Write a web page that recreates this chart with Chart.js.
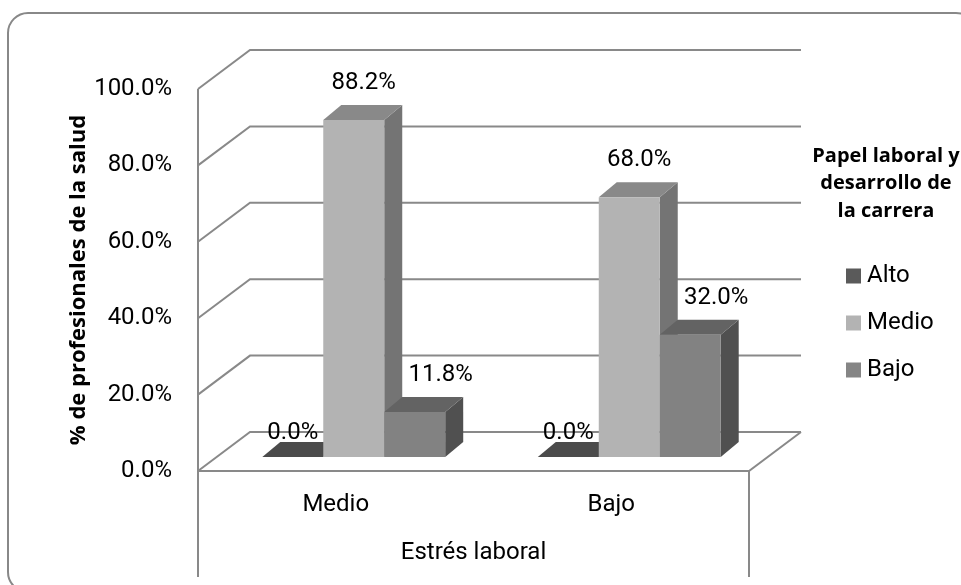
<!DOCTYPE html>
<html><head><meta charset="utf-8">
<script src="https://cdn.jsdelivr.net/npm/chart.js@4/dist/chart.umd.min.js"></script>
<style>html,body{margin:0;padding:0;background:#fff;}canvas{display:block;}</style>
</head><body>
<canvas id="c" width="961" height="585"></canvas>
<script>
// ---- data ----
const categories = ['Medio', 'Bajo'];
const seriesNames = ['Alto', 'Medio', 'Bajo'];
const altoValues = [0.0, 0.0];
const medioValues = [88.2, 68.0];
const bajoValues = [11.8, 32.0];
const yTickValues = [0, 20, 40, 60, 80, 100];
const xAxisTitle = 'Estrés laboral';
const yAxisTitle = '% de profesionales de la salud';
const legendTitle = ['Papel laboral y', 'desarrollo de', 'la carrera'];

// ---- styles ----
const FONT = "Roboto, 'Open Sans', sans-serif";
const BOLD_FONT = "'Open Sans', sans-serif";
const LINE = '#898989';
const DEPTH = {dx: 52, dy: -39};
const BAR_SHIFT = {dx: 18, dy: -14};
const BAR_DEPTH = {dx: 18, dy: -15};
const FACES = [
  {front: '#4b4b4b', top: '#4b4b4b', side: '#3c3c3c', legend: '#5a5a5a', labelDx: 0},
  {front: '#b3b3b3', top: '#898989', side: '#747474', legend: '#b3b3b3', labelDx: 10},
  {front: '#828282', top: '#636363', side: '#505050', legend: '#858585', labelDx: 26}
];

function roundRectPath(ctx, x, y, w, h, r) {
  ctx.beginPath();
  ctx.moveTo(x + r, y);
  ctx.lineTo(x + w - r, y);
  ctx.arcTo(x + w, y, x + w, y + r, r);
  ctx.lineTo(x + w, y + h - r);
  ctx.arcTo(x + w, y + h, x + w - r, y + h, r);
  ctx.lineTo(x + r, y + h);
  ctx.arcTo(x, y + h, x, y + h - r, r);
  ctx.lineTo(x, y + r);
  ctx.arcTo(x, y, x + r, y, r);
  ctx.closePath();
}

function poly(ctx, pts, color) {
  ctx.beginPath();
  ctx.moveTo(pts[0][0], pts[0][1]);
  for (let i = 1; i < pts.length; i++) ctx.lineTo(pts[i][0], pts[i][1]);
  ctx.closePath();
  ctx.fillStyle = color;
  ctx.fill();
}

const plot3d = {
  id: 'plot3d',
  beforeDraw(chart) {
    const ctx = chart.ctx;
    ctx.save();
    ctx.fillStyle = '#fff';
    ctx.fillRect(0, 0, chart.width, chart.height);
    ctx.strokeStyle = '#888';
    ctx.lineWidth = 2;
    roundRectPath(ctx, 8, 13, 968, 579, 20);
    ctx.stroke();
    ctx.restore();
  },
  beforeDatasetsDraw(chart) {
    const {ctx, chartArea: a, scales: {y}} = chart;
    ctx.save();
    ctx.strokeStyle = LINE;
    ctx.lineWidth = 2;
    ctx.beginPath();
    y.ticks.forEach(t => {
      const fy = y.getPixelForValue(t.value);
      ctx.moveTo(a.left, fy);
      ctx.lineTo(a.left + DEPTH.dx, fy + DEPTH.dy);
      ctx.lineTo(a.right + DEPTH.dx, fy + DEPTH.dy);
    });
    ctx.moveTo(a.left, a.top);
    ctx.lineTo(a.left, 577);
    ctx.moveTo(a.left, a.bottom);
    ctx.lineTo(a.right, a.bottom);
    ctx.lineTo(a.right + DEPTH.dx, a.bottom + DEPTH.dy);
    ctx.moveTo(a.right, a.bottom);
    ctx.lineTo(a.right, 577);
    ctx.stroke();

    // 3D bars
    const labels = [];
    const nCat = chart.data.labels.length;
    for (let i = 0; i < nCat; i++) {
      chart.data.datasets.forEach((ds, d) => {
        const el = chart.getDatasetMeta(d).data[i];
        const {x, y: yt0, base, width} = el.getProps(['x', 'y', 'base', 'width'], true);
        const f = FACES[d];
        const x0 = x - width / 2 + BAR_SHIFT.dx, x1 = x + width / 2 + BAR_SHIFT.dx;
        const yt = yt0 + BAR_SHIFT.dy, yb = base + BAR_SHIFT.dy;
        const bx = BAR_DEPTH.dx, by = BAR_DEPTH.dy;
        poly(ctx, [[x1, yb], [x1, yt], [x1 + bx, yt + by], [x1 + bx, yb + by]], f.side);
        poly(ctx, [[x0, yt], [x1, yt], [x1 + bx, yt + by], [x0 + bx, yt + by]], f.top);
        if (yb - yt > 0.5) poly(ctx, [[x0, yt], [x1, yt], [x1, yb], [x0, yb]], f.front);
        const v = ds.data[i];
        labels.push({x: (x0 + x1) / 2 + f.labelDx, y: yt - (v === 0 ? 24 : 37), text: v.toFixed(1) + '%'});
      });
    }
    ctx.fillStyle = '#000';
    ctx.font = '24px ' + FONT;
    ctx.textAlign = 'center';
    ctx.textBaseline = 'middle';
    labels.forEach(l => ctx.fillText(l.text, l.x, l.y));
    ctx.restore();
    return false;
  },
  afterDraw(chart) {
    const ctx = chart.ctx;
    ctx.save();
    ctx.fillStyle = '#000';
    ctx.textAlign = 'center';
    ctx.textBaseline = 'middle';
    ctx.font = 'bold 20px ' + BOLD_FONT;
    legendTitle.forEach((t, i) => ctx.fillText(t, 886, 156 + i * 27.5));
    ctx.textAlign = 'left';
    ctx.font = '24px ' + FONT;
    chart.data.datasets.forEach((ds, d) => {
      const cy = 276 + d * 47;
      ctx.fillStyle = FACES[d].legend;
      ctx.fillRect(846, cy - 7.5, 15, 15);
      ctx.fillStyle = '#000';
      ctx.fillText(ds.label, 867, cy);
    });
    ctx.restore();
  }
};

new Chart(document.getElementById('c'), {
  type: 'bar',
  data: {
    labels: categories,
    datasets: [
      {label: seriesNames[0], data: altoValues, backgroundColor: FACES[0].front},
      {label: seriesNames[1], data: medioValues, backgroundColor: FACES[1].front},
      {label: seriesNames[2], data: bajoValues, backgroundColor: FACES[2].front}
    ]
  },
  options: {
    responsive: false,
    animation: false,
    devicePixelRatio: 1,
    layout: {padding: {left: 0, top: 89, right: 212, bottom: 0}},
    datasets: {bar: {categoryPercentage: 0.664, barPercentage: 1.0}},
    plugins: {legend: {display: false}, tooltip: {enabled: false}},
    scales: {
      x: {
        grid: {display: false, drawTicks: false},
        border: {display: false},
        ticks: {color: '#000', font: {family: FONT, size: 24}, padding: 20},
        title: {display: true, text: xAxisTitle, color: '#000', font: {family: FONT, size: 24}, padding: {top: 0, bottom: 18}},
        afterFit(s) { s.height = 114; }
      },
      y: {
        min: 0, max: 100,
        afterBuildTicks(s) { s.ticks = yTickValues.map(v => ({value: v})); },
        grid: {display: false, drawTicks: false},
        border: {display: false},
        ticks: {color: '#000', font: {family: FONT, size: 24}, padding: 26,
          callback: v => Number(v).toFixed(1) + '%'},
        title: {display: true, text: yAxisTitle, color: '#000', font: {family: BOLD_FONT, size: 22, weight: 'bold'}, padding: {top: 66, bottom: 0}},
        afterFit(s) { s.width = 198; }
      }
    }
  },
  plugins: [plot3d]
});
</script>
</body></html>
